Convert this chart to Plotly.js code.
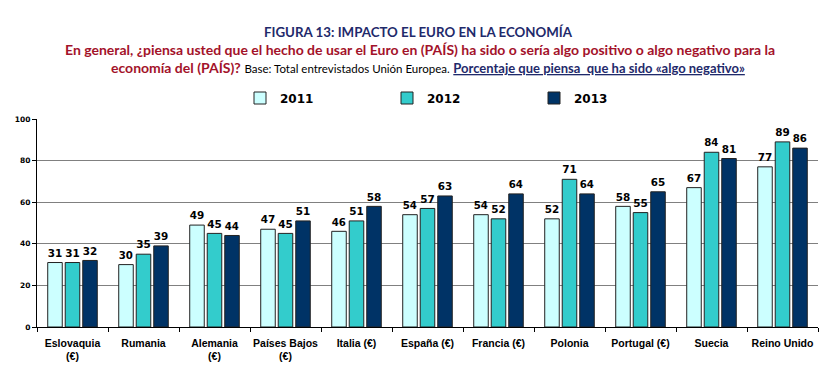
<!DOCTYPE html>
<html><head><meta charset="utf-8">
<script src="https://cdn.plot.ly/plotly-3.0.1.min.js"></script>
<style>body{margin:0;background:#fff}#c{width:837px;height:377px}</style>
</head><body><div id="c"></div>
<script>
const categories = ["Eslovaquia<br>(€)", "Rumania", "Alemania<br>(€)", "Países Bajos<br>(€)", "Italia (€)", "España (€)", "Francia (€)", "Polonia", "Portugal (€)", "Suecia", "Reino Unido"];
const years = ["2011", "2012", "2013"];
const v2011 = [31, 30, 49, 47, 46, 54, 54, 52, 58, 67, 77];
const v2012 = [31, 35, 45, 45, 51, 57, 52, 71, 55, 84, 89];
const v2013 = [32, 39, 44, 51, 58, 63, 64, 64, 65, 81, 86];
const yTicks = [0, 20, 40, 60, 80, 100];

const colors = ["#CCFFFF", "#33CCCC", "#003366"];
const series = [v2011, v2012, v2013];
const data = series.map((v, i) => ({
  type: "bar", name: years[i], x: categories, y: v,
  text: v.map(String), textposition: "outside", cliponaxis: false,
  textfont: {family: "DejaVu Sans", size: 11, color: "#000", weight: "bold"},
  marker: {color: colors[i], line: {color: "#222", width: 1}},
  hoverinfo: "none"
}));

const plotH = 377 - 119 - 50;
function py(pix){ return (377 - 50 - pix) / plotH; }
const W = 837 - 37 - 19;
function px(pix){ return (pix - 37) / W; }

const layout = {
  width: 837, height: 377,
  margin: {l: 37, r: 19, t: 119, b: 50},
  paper_bgcolor: "#fff", plot_bgcolor: "#fff",
  barmode: "group", bargap: 0.26, bargroupgap: 0.17,
  showlegend: true,
  legend: {orientation: "h", x: px(240), xanchor: "left", y: py(98), yanchor: "middle",
    font: {family: "DejaVu Sans", size: 12, color: "#000", weight: "bold"},
    traceorder: "normal", entrywidth: 102, itemwidth: 30},
  xaxis: {type: "category", showgrid: false, showline: true, linecolor: "#000", linewidth: 1,
    ticks: "outside", tickson: "boundaries", ticklen: 4, tickcolor: "#000", tickangle: 0,
    ticklabelstandoff: 6,
    tickfont: {family: "Liberation Sans", size: 10.5, color: "#000", weight: "bold"}},
  yaxis: {range: [0, 100], tickvals: yTicks, ticktext: yTicks.map(String),
    showgrid: true, gridcolor: "#808080", gridwidth: 1, zeroline: false,
    showline: true, linecolor: "#000", ticks: "outside", ticklen: 4, tickcolor: "#000",
    tickfont: {family: "DejaVu Sans", size: 7.5, color: "#000", weight: "bold"}},
  annotations: [
    {xref: "paper", yref: "paper", x: px(418), y: py(32), xanchor: "center", yanchor: "middle", showarrow: false,
     text: "<b>FIGURA 13: IMPACTO EL EURO EN LA ECONOMÍA</b>",
     font: {family: "Lato", size: 13.3, color: "#1F2A6B"}},
    {xref: "paper", yref: "paper", x: px(420), y: py(49), xanchor: "center", yanchor: "middle", showarrow: false,
     text: "<b>En general, ¿piensa usted que el hecho de usar el Euro en (PAÍS) ha sido o sería algo positivo o algo negativo para la</b>",
     font: {family: "Lato", size: 14, color: "#A3122A"}},
    {xref: "paper", yref: "paper", x: px(428), y: py(67), xanchor: "center", yanchor: "middle", showarrow: false,
     text: "<b>economía del (PAÍS)?</b> <span style='color:#000;font-size:11.5px'>Base: Total entrevistados Unión Europea.</span> <span style='color:#1F2A6B;font-size:13px'><b><u>Porcentaje que piensa  que ha sido «algo negativo»</u></b></span>",
     font: {family: "Lato", size: 14, color: "#A3122A"}}
  ]
};
Plotly.newPlot("c", data, layout, {displayModeBar: false, staticPlot: true});
</script></body></html>
